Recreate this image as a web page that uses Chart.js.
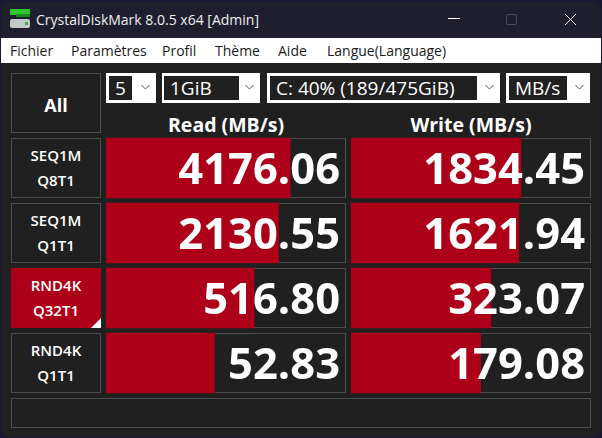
<!DOCTYPE html>
<html>
<head>
<meta charset="utf-8">
<title>CrystalDiskMark</title>
<script src="https://cdn.jsdelivr.net/npm/chart.js@4"></script>
<style>
    html, body { margin: 0; padding: 0; width: 602px; height: 438px; overflow: hidden; background: #1a1638; }
    body { position: relative; font-family: "Open Sans", "Noto Sans", sans-serif; color: #fff; }
    #win { position: absolute; left: 1px; top: 1px; width: 600px; height: 436px; background: #202020; border-radius: 8px; overflow: hidden; }
    .abs { position: absolute; box-sizing: border-box; white-space: nowrap; }
    .cell { position: absolute; box-sizing: border-box; border: 1px solid #4d4d4d; }
    .menu { position: absolute; top: 41px; font-size: 14px; line-height: 20px; color: #1a1a1a; }
    .combo { position: absolute; top: 73px; height: 30px; box-sizing: border-box; background: #fff; }
    .field { position: absolute; top: 3px; height: 24px; background: #202020; color: #fff; font-size: 19px; line-height: 25px; padding-left: 6px; box-sizing: border-box; white-space: nowrap; overflow: hidden; }
    .chev { position: absolute; top: 11px; width: 7px; height: 7px; }
    .rowlabel { position: absolute; left: 11px; width: 90px; height: 60px; box-sizing: border-box; border: 1px solid #4d4d4d; text-align: center; font-size: 15px; font-weight: 600; }
    .rowlabel span { position: absolute; left: 0; right: 0; line-height: 20px; }
    canvas { position: absolute; }
</style>
</head>
<body>
<div id="win"></div>
<div class="abs" id="titlebar" style="left:1px;top:1px;width:600px;height:37px;background:#1e1e2d;border-radius:8px 8px 0 0"></div>
<div class="abs" style="left:10px;top:9px;width:20px;height:6px;background:#2fc52f"></div>
<div class="abs" style="left:16px;top:14px;width:14px;height:3px;background:#1c8a1c"></div>
<div class="abs" style="left:10px;top:19px;width:20px;height:9px;background:#c4c8c8;border-radius:2px"></div>
<div class="abs" style="left:25px;top:22px;width:3px;height:3px;background:#39b54a"></div>
<div class="abs" style="left:36px;top:9px;font-size:14px;line-height:21px;color:#f0f0f0">CrystalDiskMark 8.0.5 x64 [Admin]</div>
<div class="abs" style="left:448px;top:18px;width:12px;height:1px;background:#fff"></div>
<div class="abs" style="left:506px;top:14px;width:11px;height:11px;border:1px solid #4c4c58;border-radius:2px"></div>
<svg class="abs" style="left:564px;top:13px" width="13" height="13"><path d="M1 1L12 12M12 1L1 12" stroke="#f0f0f0" stroke-width="1"/></svg>
<div class="abs" style="left:1px;top:38px;width:600px;height:25px;background:#fff"></div>
<div id="menubar"></div>

<div class="cell" style="left:11px;top:73px;width:90px;height:60px;text-align:center;font-size:18px;font-weight:700;line-height:63px">All</div>
<div id="combos"></div>
<div class="abs" style="left:106px;top:112px;width:240px;text-align:center;font-size:19.5px;font-weight:700;line-height:26px">Read (MB/s)</div>
<div class="abs" style="left:351px;top:112px;width:240px;text-align:center;font-size:19.5px;font-weight:700;line-height:26px">Write (MB/s)</div>

<div id="rows"></div>
<canvas id="readChart" width="240" height="261" style="left:106px;top:135px;width:240px;height:261px"></canvas>
<canvas id="writeChart" width="240" height="261" style="left:351px;top:135px;width:240px;height:261px"></canvas>
<div class="cell" style="left:11px;top:398px;width:580px;height:30px"></div>

<script>
    // Benchmark rows
    const testNames = ['SEQ1M', 'SEQ1M', 'RND4K', 'RND4K'];
    const queueNames = ['Q8T1', 'Q1T1', 'Q32T1', 'Q1T1'];
    const readValues = [4176.06, 2130.55, 516.80, 52.83];
    const writeValues = [1834.45, 1621.94, 323.07, 179.08];

    // Chrome text
    const menuItems = ['Fichier', 'Paramètres', 'Profil', 'Thème', 'Aide', 'Langue(Language)'];
    const menuLefts = [10, 71, 162, 215, 278, 327];
    const comboTexts = ['5', '1GiB', 'C: 40% (189/475GiB)', 'MB/s'];

    const BAR_COLOR = '#ad0018';

    // Menu bar
    const menubar = document.getElementById('menubar');
    menuItems.forEach(function(item, i) {
        const el = document.createElement('div');
        el.className = 'menu';
        el.style.left = menuLefts[i] + 'px';
        el.textContent = item;
        menubar.appendChild(el);
    });

    // Combo boxes: [left, width, field left, field width]
    const comboBoxes = [
        [106, 50, 3, 23],
        [162, 98, 2, 75],
        [267, 233, 3, 207],
        [506, 84, 3, 58]
    ];
    const combos = document.getElementById('combos');
    comboBoxes.forEach(function(box, i) {
        const combo = document.createElement('div');
        combo.className = 'combo';
        combo.style.left = box[0] + 'px';
        combo.style.width = box[1] + 'px';
        const field = document.createElement('div');
        field.className = 'field';
        field.style.left = box[2] + 'px';
        field.style.width = box[3] + 'px';
        field.textContent = comboTexts[i];
        combo.appendChild(field);
        const chev = document.createElementNS('http://www.w3.org/2000/svg', 'svg');
        chev.setAttribute('class', 'chev');
        chev.setAttribute('viewBox', '0 0 9 6');
        chev.style.width = '9px';
        chev.style.height = '6px';
        chev.style.left = (box[1] - 15) + 'px';
        chev.innerHTML = '<path d="M0.5 1L4.5 5L8.5 1" fill="none" stroke="#555" stroke-width="1"/>';
        combo.appendChild(chev);
        combos.appendChild(combo);
    });

    // Row labels and the empty cells behind the bars
    const rows = document.getElementById('rows');
    testNames.forEach(function(name, i) {
        const top = 138 + i * 65;
        const label = document.createElement('div');
        label.className = 'rowlabel';
        label.style.top = top + 'px';
        label.innerHTML = '<span style="top:6px">' + name + '</span><span style="top:31px">' + queueNames[i] + '</span>';
        if (queueNames[i] === 'Q32T1') {
            // Selected row
            label.style.background = BAR_COLOR;
            label.style.borderColor = BAR_COLOR;
            label.innerHTML += '<svg style="position:absolute;right:-1px;bottom:-1px" width="10" height="10"><path d="M10 0V10H0Z" fill="#fff"/></svg>';
        }
        rows.appendChild(label);
        [106, 351].forEach(function(left) {
            const cell = document.createElement('div');
            cell.className = 'cell';
            cell.style.left = left + 'px';
            cell.style.top = top + 'px';
            cell.style.width = '240px';
            cell.style.height = '60px';
            rows.appendChild(cell);
        });
    });

    // Draws the value over each bar, right aligned in the cell
    const valueLabels = {
        id: 'valueLabels',
        afterDatasetsDraw: function(chart) {
            const ctx = chart.ctx;
            const yScale = chart.scales.y;
            ctx.save();
            ctx.font = '700 43.5px "Open Sans", "Noto Sans", sans-serif';
            ctx.fillStyle = '#ffffff';
            ctx.textAlign = 'right';
            ctx.textBaseline = 'alphabetic';
            chart.data.datasets[0].data.forEach(function(value, i) {
                ctx.fillText(value.toFixed(2), chart.chartArea.right - 6, yScale.getPixelForValue(i) + 16);
            });
            ctx.restore();
        }
    };

    /**
     * Create one column of log scale bars
     * @param {string} id - Canvas id
     * @param {Array} values - Speeds for the column
     */
    function createColumn(id, values) {
        return new Chart(document.getElementById(id).getContext('2d'), {
            type: 'bar',
            data: {
                labels: testNames.map((name, i) => name + ' ' + queueNames[i]),
                datasets: [{
                    data: values,
                    backgroundColor: BAR_COLOR,
                    borderWidth: 0,
                    barThickness: 60
                }]
            },
            options: {
                indexAxis: 'y',
                responsive: false,
                animation: false,
                devicePixelRatio: 1,
                layout: { padding: { top: 0.5, bottom: 0.5, left: 0, right: 0 } },
                plugins: {
                    legend: { display: false },
                    tooltip: { enabled: false }
                },
                scales: {
                    x: { type: 'logarithmic', min: 0.1, max: 105000, display: false },
                    y: { display: false }
                }
            },
            plugins: [valueLabels]
        });
    }

    createColumn('readChart', readValues);
    createColumn('writeChart', writeValues);
</script>
</body>
</html>
